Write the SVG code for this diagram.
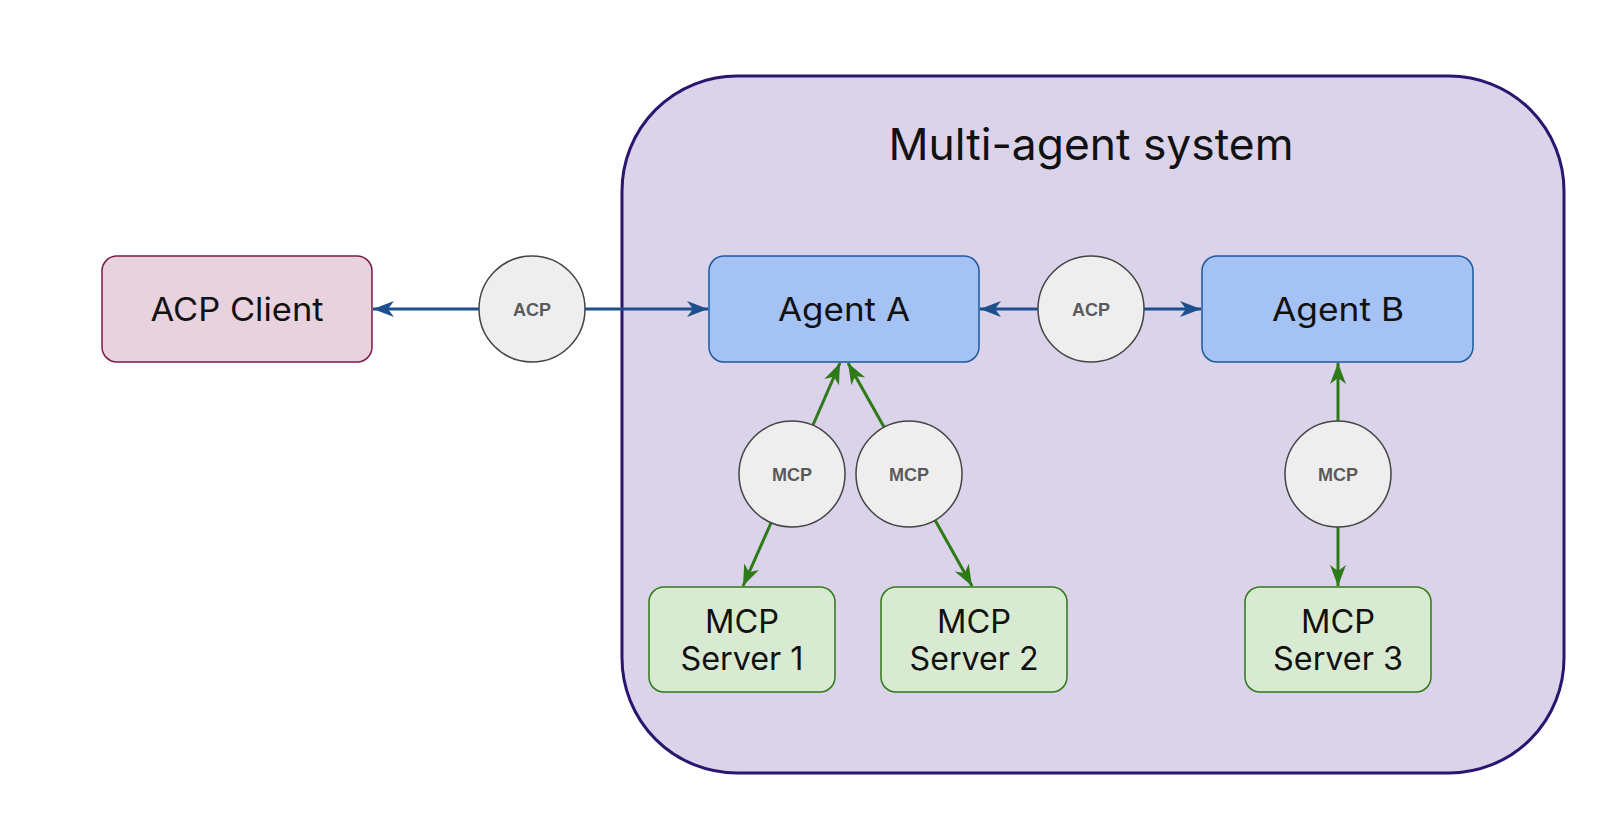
<svg xmlns="http://www.w3.org/2000/svg" width="1600" height="831" viewBox="0 0 1600 831">
<style>
.lbl{font-family:Inter,"Open Sans","Liberation Sans",sans-serif;font-size:32px;fill:#111;text-anchor:middle}
.title{font-family:Inter,"Open Sans","Liberation Sans",sans-serif;font-size:44px;fill:#111;text-anchor:middle}
.pill{font-family:"Liberation Sans",Arial,sans-serif;font-weight:bold;font-size:18px;fill:#5a5a5a;text-anchor:middle}
.circ{fill:#eeeeee;stroke:#444;stroke-width:1.5}
.agent{fill:#a4c2f3;stroke:#1d5a9e;stroke-width:1.5}
.srv{fill:#d9ead3;stroke:#2e7a18;stroke-width:1.5}
.blue{stroke:#1c4f8c;stroke-width:3;fill:none;marker-end:url(#ab)}
.green{stroke:#2e7a18;stroke-width:3;fill:none;marker-end:url(#ag)}
</style>
<defs>
<marker id="ab" markerUnits="userSpaceOnUse" viewBox="-22 -10 24 20" refX="0" refY="0" markerWidth="24" markerHeight="20" orient="auto">
<path d="M0,0 L-21,-8 L-15,0 L-21,8 Z" fill="#1c4f8c"/>
</marker>
<marker id="ag" markerUnits="userSpaceOnUse" viewBox="-22 -10 24 20" refX="0" refY="0" markerWidth="24" markerHeight="20" orient="auto">
<path d="M0,0 L-21,-8 L-15,0 L-21,8 Z" fill="#2e7a18"/>
</marker>
</defs>
<rect width="1600" height="831" fill="#ffffff"/>
<g id="container">
<rect x="622" y="76" width="942" height="697" rx="115" ry="115" fill="#dbd3e9" stroke="#2a1670" stroke-width="3"/>
<text class="title" x="1091" y="160" textLength="405" lengthAdjust="spacingAndGlyphs">Multi-agent system</text>
</g>
<g id="connectors">
<line class="blue" x1="479" y1="309" x2="373" y2="309"/>
<line class="blue" x1="585" y1="309" x2="708" y2="309"/>
<line class="blue" x1="1038" y1="309" x2="980" y2="309"/>
<line class="blue" x1="1144" y1="309" x2="1201" y2="309"/>
<line class="green" x1="813" y1="425" x2="840" y2="363"/>
<line class="green" x1="771" y1="523" x2="743" y2="586"/>
<line class="green" x1="884" y1="427" x2="848" y2="363"/>
<line class="green" x1="935" y1="520" x2="972" y2="586"/>
<line class="green" x1="1338" y1="421" x2="1338" y2="363"/>
<line class="green" x1="1338" y1="527" x2="1338" y2="586"/>
</g>
<g id="acp-client">
<rect x="102" y="256" width="270" height="106" rx="15" fill="#e8d2de" stroke="#7a1a4a" stroke-width="1.5"/>
<text class="lbl" x="237" y="321" textLength="173" lengthAdjust="spacingAndGlyphs">ACP Client</text>
</g>
<g id="acp1">
<circle class="circ" cx="532" cy="309" r="53"/>
<text class="pill" x="532" y="315.5">ACP</text>
</g>
<g id="agent-a">
<rect class="agent" x="709" y="256" width="270" height="106" rx="15"/>
<text class="lbl" x="844" y="321" textLength="132" lengthAdjust="spacingAndGlyphs">Agent A</text>
</g>
<g id="acp2">
<circle class="circ" cx="1091" cy="309" r="53"/>
<text class="pill" x="1091" y="315.5">ACP</text>
</g>
<g id="agent-b">
<rect class="agent" x="1202" y="256" width="271" height="106" rx="15"/>
<text class="lbl" x="1338" y="321" textLength="132" lengthAdjust="spacingAndGlyphs">Agent B</text>
</g>
<g id="mcp1">
<circle class="circ" cx="792" cy="474" r="53"/>
<text class="pill" x="792" y="480.5">MCP</text>
</g>
<g id="mcp2">
<circle class="circ" cx="909" cy="474" r="53"/>
<text class="pill" x="909" y="480.5">MCP</text>
</g>
<g id="mcp3">
<circle class="circ" cx="1338" cy="474" r="53"/>
<text class="pill" x="1338" y="480.5">MCP</text>
</g>
<g id="server1">
<rect class="srv" x="649" y="587" width="186" height="105" rx="15"/>
<text class="lbl" x="742" y="632.5" textLength="74" lengthAdjust="spacingAndGlyphs">MCP</text>
<text class="lbl" x="742" y="670" textLength="123" lengthAdjust="spacingAndGlyphs">Server 1</text>
</g>
<g id="server2">
<rect class="srv" x="881" y="587" width="186" height="105" rx="15"/>
<text class="lbl" x="974" y="632.5" textLength="74" lengthAdjust="spacingAndGlyphs">MCP</text>
<text class="lbl" x="974" y="670" textLength="129" lengthAdjust="spacingAndGlyphs">Server 2</text>
</g>
<g id="server3">
<rect class="srv" x="1245" y="587" width="186" height="105" rx="15"/>
<text class="lbl" x="1338" y="632.5" textLength="74" lengthAdjust="spacingAndGlyphs">MCP</text>
<text class="lbl" x="1338" y="670" textLength="130" lengthAdjust="spacingAndGlyphs">Server 3</text>
</g>
</svg>
